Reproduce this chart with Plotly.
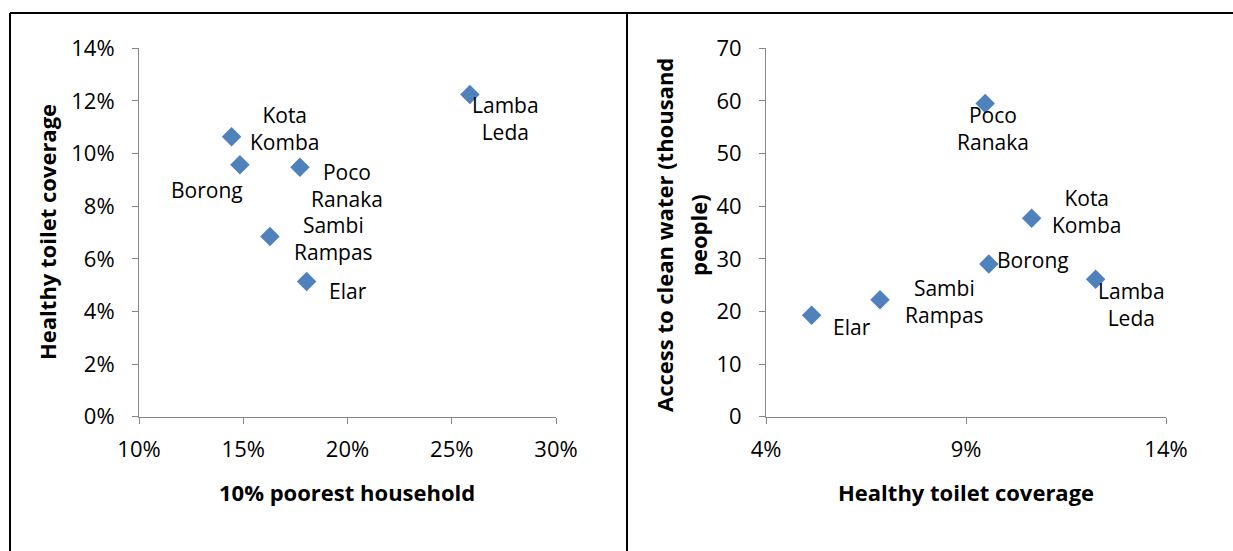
import plotly.graph_objects as go

# ---- data ----
districts = ["Elar", "Sambi Rampas", "Borong", "Poco Ranaka", "Kota Komba", "Lamba Leda"]
label_text = ["Elar", "Sambi<br>Rampas", "Borong", "Poco<br>Ranaka", "Kota<br>Komba", "Lamba<br>Leda"]
poorest_household = [0.1804, 0.1628, 0.1484, 0.1772, 0.1444, 0.2587]
healthy_toilet = [0.0514, 0.0685, 0.0957, 0.0948, 0.1064, 0.1224]
clean_water = [19.3, 22.2, 29.0, 59.5, 37.7, 26.1]

left_x_ticks = [0.10, 0.15, 0.20, 0.25, 0.30]
left_y_ticks = [0, 0.02, 0.04, 0.06, 0.08, 0.10, 0.12, 0.14]
right_x_ticks = [0.04, 0.09, 0.14]
right_y_ticks = [0, 10, 20, 30, 40, 50, 60, 70]

# label pixel offsets (dx right, dy down) per district
left_offsets = [(41, 10), (64, 2), (-33, 25), (47, 18), (53, -8), (36, 24)]
right_offsets = [(40, 12), (64, 2), (44, -4), (8, 25), (55, -7), (36, 25)]

W, H = 1233, 551
FONT = "Open Sans"
MARK = "#4F81BD"
AXC = "#868686"

fig = go.Figure()
fig.add_trace(go.Scatter(x=poorest_household, y=healthy_toilet, mode="markers",
                         marker=dict(symbol="diamond", size=15, color=MARK),
                         xaxis="x", yaxis="y", showlegend=False, hoverinfo="skip"))
fig.add_trace(go.Scatter(x=healthy_toilet, y=clean_water, mode="markers",
                         marker=dict(symbol="diamond", size=15, color=MARK),
                         xaxis="x2", yaxis="y2", showlegend=False, hoverinfo="skip"))

LABEL_FONT = dict(family=FONT, size=21, color="black")
ann = []
for i, t in enumerate(label_text):
    dx, dy = left_offsets[i]
    ann.append(dict(x=poorest_household[i], y=healthy_toilet[i], xref="x", yref="y",
                    text=t, showarrow=False, xshift=dx, yshift=-dy,
                    xanchor="center", yanchor="middle", font=LABEL_FONT))
    dx, dy = right_offsets[i]
    ann.append(dict(x=healthy_toilet[i], y=clean_water[i], xref="x2", yref="y2",
                    text=t, showarrow=False, xshift=dx, yshift=-dy,
                    xanchor="center", yanchor="middle", font=LABEL_FONT))

def px(x):
    return x / W

def py(y):
    return 1 - y / H

title_font = dict(family=FONT, size=22, color="black")
ann += [
    dict(x=px(347), y=py(492), xref="paper", yref="paper", text="<b>10% poorest household</b>",
         showarrow=False, xanchor="center", yanchor="middle", font=title_font),
    dict(x=px(966), y=py(492), xref="paper", yref="paper", text="<b>Healthy toilet coverage</b>",
         showarrow=False, xanchor="center", yanchor="middle", font=title_font),
    dict(x=px(47), y=py(232), xref="paper", yref="paper", text="<b>Healthy toilet coverage</b>",
         showarrow=False, xanchor="center", yanchor="middle", textangle=-90, font=title_font),
    dict(x=px(664), y=py(235), xref="paper", yref="paper", text="<b>Access to clean water (thousand</b>",
         showarrow=False, xanchor="center", yanchor="middle", textangle=-90, font=title_font),
    dict(x=px(698), y=py(235), xref="paper", yref="paper", text="<b>people)</b>",
         showarrow=False, xanchor="center", yanchor="middle", textangle=-90, font=title_font),
]

axis_common = dict(showgrid=False, zeroline=False, showline=True, linecolor=AXC, linewidth=1,
                   ticks="outside", ticklen=6, tickcolor=AXC, tickwidth=1, automargin=False,
                   tickfont=dict(family=FONT, size=22, color="black"))

fig.update_layout(
    width=W, height=H, margin=dict(l=0, r=0, t=0, b=0, pad=0, autoexpand=False),
    paper_bgcolor="white", plot_bgcolor="white",
    xaxis=dict(domain=[px(139), px(556)], range=[0.10, 0.30], tickvals=left_x_ticks,
               tickformat=".0%", anchor="y", ticklabelstandoff=7, **axis_common),
    yaxis=dict(domain=[py(416.7), py(48.3)], range=[0, 0.14], tickvals=left_y_ticks,
               tickformat=".0%", anchor="x", ticklabelstandoff=13, **axis_common),
    xaxis2=dict(domain=[px(766), px(1166)], range=[0.04, 0.14], tickvals=right_x_ticks,
                tickformat=".0%", anchor="y2", ticklabelstandoff=7, **axis_common),
    yaxis2=dict(domain=[py(416.7), py(48.3)], range=[0, 70], tickvals=right_y_ticks,
                anchor="x2", ticklabelstandoff=13, **axis_common),
    annotations=ann,
    shapes=[
        dict(type="line", xref="paper", yref="paper", x0=px(10), x1=1, y0=py(13), y1=py(13),
             line=dict(color="black", width=2)),
        dict(type="line", xref="paper", yref="paper", x0=px(10), x1=px(10), y0=py(13), y1=0,
             line=dict(color="black", width=2)),
        dict(type="line", xref="paper", yref="paper", x0=px(627), x1=px(627), y0=py(13), y1=0,
             line=dict(color="black", width=2)),
    ],
)

fig.write_html("out.html", config={"displayModeBar": False},
               post_script="document.body.style.margin='0';")
